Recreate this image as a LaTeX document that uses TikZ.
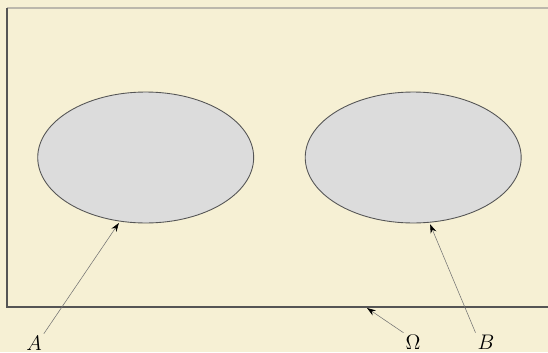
\documentclass[tikz,border=0pt]{standalone}
\usepackage{tikz}
\usetikzlibrary{arrows.meta,positioning,shapes.geometric}
\definecolor{bgcream}{HTML}{F6F0D4}
\definecolor{setgray}{HTML}{DCDCDC}
\definecolor{edgegray}{HTML}{555555}
\definecolor{topgray}{HTML}{BCB8AC}
\definecolor{pointergray}{HTML}{707070}

\begin{document}
\begin{tikzpicture}[>=Stealth,x=0.02cm,y=-0.02cm,
 setnode/.style={draw=edgegray,line width=0.5pt,ellipse,fill=setgray,minimum width=4.32cm,minimum height=2.62cm,inner sep=0pt},
 lab/.style={font=\fontsize{12.5}{14}\selectfont,inner sep=1pt},
 pointer/.style={draw=pointergray,line width=0.3pt,-{Stealth[length=5pt,width=3.4pt,color=black]}}]
\fill[bgcream] (0,0) rectangle (548,352);
\useasboundingbox (0,0) rectangle (548,352);
% universe frame
\draw[topgray,line width=0.8pt] (7,8) -- (548,8);
\draw[edgegray,line width=0.8pt] (7,8) -- (7,307) -- (548,307);
\node[setnode] (setA) at (145.7,157.5) {};
\node[setnode] (setB) at (413.2,157.5) {};
\node[lab] (labA) at (34,343) {$A$};
\node[lab] (labOmega) at (413,342) {$\Omega$};
\node[lab] (labB) at (486,342) {$B$};
\coordinate (framept) at (367,308);
\draw[pointer,shorten >=1pt] (labA.north east) -- (setA.248);
\draw[pointer] (labOmega.north west) -- (framept);
\draw[pointer,shorten >=1pt] (labB.north west) -- (setB.284);
\end{tikzpicture}
\end{document}
